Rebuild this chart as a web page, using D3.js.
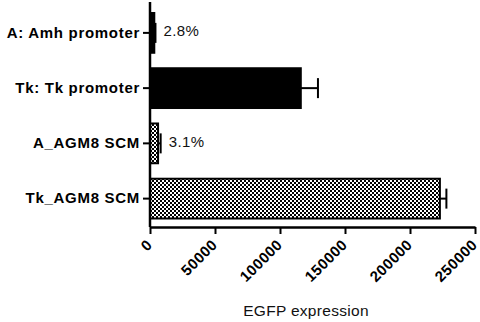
<!DOCTYPE html>
<html>
<head>
<meta charset="utf-8">
<script src="https://cdn.jsdelivr.net/npm/d3@7"></script>
<style>
  body { margin: 0; background: #fff; }
  svg text { font-family: Arial, "Liberation Sans", sans-serif; }
</style>
</head>
<body>
<div id="chart"></div>
<script>
var svgWidth = 480;
var svgHeight = 322;

// chart values
var categories = ["A: Amh promoter", "Tk: Tk promoter", "A_AGM8 SCM", "Tk_AGM8 SCM"];
var values = [3300, 116000, 6200, 223000];
var errors = [900, 13200, 2000, 5000];
var fills = ["solid", "solid", "checker", "checker"];
var pctLabels = ["2.8%", "", "3.1%", ""];
var xTicks = [0, 50000, 100000, 150000, 200000, 250000];

var svg = d3.select("#chart")
  .append("svg")
  .attr("width", svgWidth)
  .attr("height", svgHeight);

// checkerboard pattern
var pat = svg.append("defs").append("pattern")
  .attr("id", "checker")
  .attr("patternUnits", "userSpaceOnUse")
  .attr("width", 4)
  .attr("height", 4);
pat.append("rect").attr("width", 4).attr("height", 4).attr("fill", "#fff");
pat.append("rect").attr("width", 2).attr("height", 2).attr("fill", "#000");
pat.append("rect").attr("x", 2).attr("y", 2).attr("width", 2).attr("height", 2).attr("fill", "#000");

var x = d3.scaleLinear()
  .domain([0, 250000])
  .range([150, 475]);

var y = d3.scaleBand()
  .domain(categories)
  .range([13, 218.5])
  .paddingInner(0.28)
  .paddingOuter(0);

var axisY = 227;

// bars
var data = categories.map(function(c, i) {
  return {cat: c, value: values[i], err: errors[i], fill: fills[i], pct: pctLabels[i]};
});

svg.selectAll("rect.bar")
  .data(data)
  .enter()
  .append("rect")
  .attr("class", "bar")
  .attr("x", x(0))
  .attr("y", d => y(d.cat))
  .attr("width", d => x(d.value) - x(0))
  .attr("height", y.bandwidth())
  .attr("fill", d => d.fill == "solid" ? "#000" : "url(#checker)")
  .attr("stroke", "#000")
  .attr("stroke-width", 2);

// error bars
var eb = svg.selectAll("g.err")
  .data(data)
  .enter()
  .append("g")
  .attr("class", "err")
  .attr("stroke", "#000")
  .attr("stroke-width", 2);

eb.append("line")
  .attr("x1", d => x(d.value))
  .attr("x2", d => x(d.value + d.err))
  .attr("y1", d => y(d.cat) + y.bandwidth() / 2)
  .attr("y2", d => y(d.cat) + y.bandwidth() / 2);

eb.append("line")
  .attr("x1", d => x(d.value + d.err))
  .attr("x2", d => x(d.value + d.err))
  .attr("y1", d => y(d.cat) + y.bandwidth() / 2 - 10)
  .attr("y2", d => y(d.cat) + y.bandwidth() / 2 + 10);

// percent labels
svg.selectAll("text.pct")
  .data(data.filter(d => d.pct))
  .enter()
  .append("text")
  .attr("class", "pct")
  .attr("x", d => x(d.value + d.err) + 8)
  .attr("y", d => y(d.cat) + y.bandwidth() / 2 - 2)
  .attr("dy", "0.35em")
  .attr("font-size", 15)
  .attr("letter-spacing", 0.4)
  .attr("fill", "#111")
  .text(d => d.pct);

// y axis
var leftAxis = d3.axisLeft(y).tickSize(7).tickPadding(3).tickSizeOuter(0);
var gy = svg.append("g")
  .attr("transform", `translate(${x(0)}, 0)`)
  .call(leftAxis);
gy.select(".domain").remove();
gy.selectAll(".tick line").attr("stroke", "#000").attr("stroke-width", 2);
gy.selectAll(".tick text")
  .attr("font-size", 15)
  .attr("letter-spacing", 0.7)
  .attr("font-weight", "bold")
  .attr("fill", "#000");
svg.append("line")
  .attr("x1", x(0)).attr("x2", x(0))
  .attr("y1", 2).attr("y2", axisY)
  .attr("stroke", "#000")
  .attr("stroke-width", 2.5);

// x axis
var bottomAxis = d3.axisBottom(x).tickValues(xTicks).tickFormat(d3.format("d")).tickSize(7).tickSizeOuter(0);
var gx = svg.append("g")
  .attr("transform", `translate(0, ${axisY})`)
  .call(bottomAxis);
gx.select(".domain").attr("stroke", "#000").attr("stroke-width", 2.5);
gx.selectAll(".tick line").attr("stroke", "#000").attr("stroke-width", 2);
gx.selectAll(".tick text")
  .attr("font-size", 15)
  .attr("letter-spacing", 0.4)
  .attr("font-weight", "bold")
  .attr("fill", "#000")
  .attr("text-anchor", "end")
  .attr("x", 0)
  .attr("y", 0)
  .attr("dy", "0.35em")
  .attr("transform", "translate(-1, 15) rotate(-45)");

// axis title
svg.append("text")
  .attr("x", 306)
  .attr("y", 316)
  .attr("text-anchor", "middle")
  .attr("font-size", 15.5)
  .attr("letter-spacing", 0.3)
  .attr("fill", "#111")
  .text("EGFP expression");
</script>
</body>
</html>
